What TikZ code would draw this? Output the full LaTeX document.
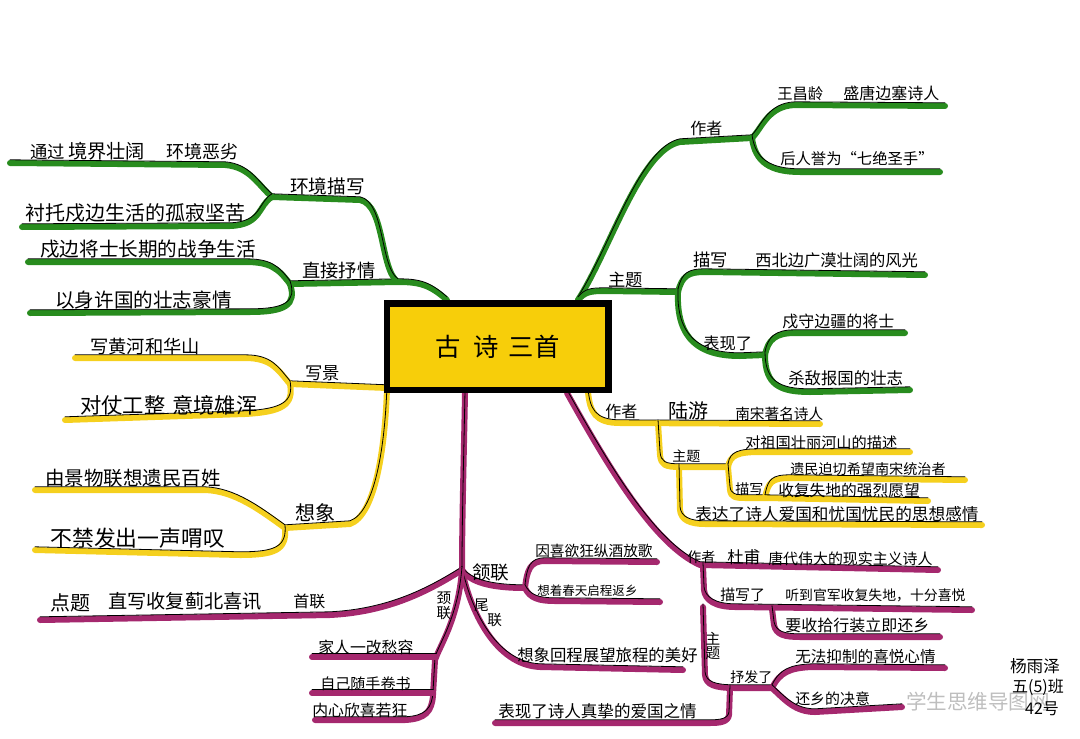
\documentclass[tikz,border=0pt]{standalone}
\usepackage{fontspec}
\setmainfont{Noto Sans CJK SC}
\definecolor{gcol}{RGB}{40,140,30}
\definecolor{ycol}{RGB}{245,208,30}
\definecolor{pcol}{RGB}{165,40,110}
\definecolor{ycen}{RGB}{247,206,10}
\definecolor{wmc}{RGB}{190,190,190}
\tikzset{
  br/.style={draw=#1, line width=4.5pt, line cap=round, line join=round,
    postaction={draw=black, line width=0.6pt, transform canvas={yshift=2.4pt}}},
  gb/.style={br=gcol}, yb/.style={br=ycol}, pb/.style={br=pcol},
  lbl/.style={inner sep=0pt, anchor=south west},
  fs/.style={font=\fontsize{#1}{#1}\selectfont},
}
\begin{document}
\begin{tikzpicture}[x=0.75pt,y=-0.75pt]
\useasboundingbox (0,0) rectangle (1080,738);
% ---------- coordinates
\coordinate (gA) at (578,300);
\coordinate (gF1) at (752,138);
\coordinate (gF2) at (678,292);
\coordinate (gF3) at (765,355);
\coordinate (gB) at (447,300);
\coordinate (gF4) at (398,282);
\coordinate (gF5) at (272,197);
\coordinate (gF6) at (290,284);
\coordinate (yA) at (387,388);
\coordinate (yF1) at (290,384);
\coordinate (yF2) at (285,528);
\coordinate (yB) at (588,392);
\coordinate (yF3) at (658,423);
\coordinate (yF4) at (728,467);
\coordinate (yF5) at (765,498);
\coordinate (yF6) at (679,467);
\coordinate (pA) at (465,393);
\coordinate (pH) at (462,570);
\coordinate (pB) at (567,393);
\coordinate (pF1) at (703,566);
\coordinate (pF2) at (772,609);
\coordinate (pF1b) at (703,607);
\coordinate (pF3) at (772,688);
\coordinate (pF3b) at (730,688);
\coordinate (pF4) at (525,588);
% ---------- green
\draw[gb] (gA) .. controls (610,250) and (640,150) .. (680,142) -- (gF1);
\draw[gb] (gF1) .. controls (762,128) and (768,106) .. (795,105) -- (945,106);
\draw[gb] (gF1) .. controls (755,162) and (770,172) .. (800,172) -- (940,172);
\draw[gb] (gA) .. controls (585,292) and (590,291) .. (605,291) -- (gF2);
\draw[gb] (gF2) .. controls (682,276) and (688,272) .. (705,272) -- (925,275);
\draw[gb] (gF2) .. controls (676,340) and (700,356) .. (740,356) -- (gF3);
\draw[gb] (gF3) .. controls (768,340) and (775,333) .. (795,333) -- (905,333);
\draw[gb] (gF3) .. controls (765,385) and (780,392) .. (810,392) -- (910,390);
\draw[gb] (gB) .. controls (430,285) and (420,282) .. (gF4) -- (gF6);
\draw[gb] (gF4) .. controls (380,270) and (385,205) .. (360,200) -- (gF5);
\draw[gb] (gF5) .. controls (258,185) and (250,167) .. (225,165) -- (10,163);
\draw[gb] (gF5) .. controls (258,205) and (262,225) .. (230,226) -- (22,227);
\draw[gb] (gF6) .. controls (278,268) and (270,262) .. (245,262) -- (28,262);
\draw[gb] (gF6) .. controls (297,305) and (285,312) .. (250,312) -- (30,313);
% ---------- yellow
\draw[yb] (yA) -- (yF1);
\draw[yb] (yF1) .. controls (278,370) and (272,358) .. (245,358) -- (75,358);
\draw[yb] (yF1) .. controls (294,405) and (282,412) .. (245,414) -- (65,420);
\draw[yb] (yA) .. controls (385,450) and (375,515) .. (350,524) -- (yF2);
\draw[yb] (yF2) .. controls (260,510) and (235,491) .. (205,490) -- (35,490);
\draw[yb] (yF2) .. controls (287,550) and (275,555) .. (240,555) -- (35,550);
\draw[yb] (yB) .. controls (590,412) and (595,423) .. (620,423) -- (820,424);
\draw[yb] (yF3) -- (660,455) .. controls (661,465) and (665,467) .. (680,467) -- (yF4);
\draw[yb] (yF4) .. controls (730,455) and (738,452) .. (760,452) -- (910,452);
\draw[yb] (yF4) -- (730,490) .. controls (731,497) and (735,498) .. (745,498) -- (yF5);
\draw[yb] (yF5) .. controls (768,482) and (772,478) .. (790,478) -- (965,480);
\draw[yb] (yF5) -- (928,501);
\draw[yb] (yF6) -- (680,510) .. controls (681,520) and (690,524) .. (705,524) -- (982,525);
% ---------- purple
\draw[pb] (pA) .. controls (464,450) and (462,520) .. (pH);
\draw[pb] (pB) .. controls (610,470) and (655,545) .. (700,565) -- (938,570);
\draw[pb] (pF1) -- (704,590) .. controls (705,600) and (715,607) .. (735,607) -- (972,610);
\draw[pb] (pF2) -- (774,625) .. controls (776,635) and (785,637) .. (800,637) -- (940,637);
\draw[pb] (pF1b) -- (705,675) .. controls (706,685) and (715,688) .. (735,688) -- (pF3);
\draw[pb] (pF3) .. controls (780,672) and (790,668) .. (812,667) -- (945,668);
\draw[pb] (pF3) .. controls (785,700) and (795,712) .. (815,712) -- (902,707);
\draw[pb] (pF3b) -- (729,715) .. controls (728,722) and (720,723) .. (710,723) -- (495,723);
\draw[pb] (pH) .. controls (430,590) and (390,612) .. (330,615) -- (40,620);
\draw[pb] (pH) .. controls (470,582) and (490,588) .. (pF4);
\draw[pb] (pF4) .. controls (527,570) and (530,561) .. (545,561) -- (657,562);
\draw[pb] (pF4) .. controls (530,598) and (538,601) .. (555,601) -- (660,602);
\draw[pb] (pH) .. controls (470,610) and (495,665) .. (540,667) -- (683,670);
\draw[pb] (pH) .. controls (458,620) and (440,645) .. (435,660) -- (433,695) .. controls (432,712) and (425,719) .. (405,720) -- (315,720);
\draw[pb] (436,657) -- (312,657);
\draw[pb] (433,693) -- (312,693);
% ---------- centre
\node[draw=black, line width=5pt, fill=ycen, minimum width=166pt, minimum height=65pt,
      inner sep=0pt, fs=19] (c) at (497.5,346.5) {古\hspace{0.5em}诗\hspace{0.4em}三首};
% ---------- green texts
\node[lbl,fs=12] (ga1) at (690,136) {作者};
\node[lbl,fs=11.5] (ga2) at (777,101) {王昌龄};
\node[lbl,fs=12] (ga3) at (843,101) {盛唐边塞诗人};
\node[lbl,fs=11.5] (ga4) at (780,166) {后人誉为“七绝圣手”};
\node[lbl,fs=13] (gt1) at (608,288) {主题};
\node[lbl,fs=13] (gt2) at (693,268) {描写};
\node[lbl,fs=12.2] (gt3) at (755,268) {西北边广漠壮阔的风光};
\node[lbl,fs=12.2] (gt4) at (703,351) {表现了};
\node[lbl,fs=12] (gt5) at (782,329) {戍守边疆的将士};
\node[lbl,fs=12.3] (gt6) at (788,386) {杀敌报国的壮志};
\node[lbl,fs=14] (ge1) at (290,195) {环境描写};
\node[lbl,fs=13] (ge2) at (30,160) {通过};
\node[lbl,fs=14.4] (ge3) at (68,160) {境界壮阔};
\node[lbl,fs=13.5] (ge4) at (166,160) {环境恶劣};
\node[lbl,fs=15] (ge5) at (25,223) {衬托戍边生活的孤寂坚苦};
\node[lbl,fs=13.7] (gz1) at (302,279) {直接抒情};
\node[lbl,fs=14.7] (gz2) at (40,259) {戍边将士长期的战争生活};
\node[lbl,fs=14.7] (gz3) at (55,309) {以身许国的壮志豪情};
% ---------- yellow texts
\node[lbl,fs=13] (yx1) at (305,381) {写景};
\node[lbl,fs=13.7] (yx2) at (90,355) {写黄河和华山};
\node[lbl,fs=16] (yx3) at (80,416) {对仗工整};
\node[lbl,fs=16] (yx4) at (172,416) {意境雄浑};
\node[lbl,fs=15] (yy1) at (295,522) {想象};
\node[lbl,fs=14.6] (yy2) at (45,487) {由景物联想遗民百姓};
\node[lbl,fs=16.4] (yy3) at (50,549) {不禁发出一声喟叹};
\node[lbl,fs=12] (yl1) at (605,419) {作者};
\node[lbl,fs=15] (yl2) at (668,420) {陆游};
\node[lbl,fs=11] (yl3) at (735,421) {南宋著名诗人};
\node[lbl,fs=10.5] (yl4) at (672,463) {主题};
\node[lbl,fs=11.4] (yl5) at (745,450) {对祖国壮丽河山的描述};
\node[lbl,fs=10.6] (yl6) at (790,476) {遗民迫切希望南宋统治者};
\node[lbl,fs=10.5] (yl7) at (735,496) {描写};
\node[lbl,fs=11.8] (yl8) at (778,498) {收复失地的强烈愿望};
\node[lbl,fs=12.5] (yl9) at (695,522) {表达了诗人爱国和忧国忧民的思想感情};
% ---------- purple texts
\node[lbl,fs=10.5] (pd1) at (687,564) {作者};
\node[lbl,fs=12.4] (pd2) at (727,565) {杜甫};
\node[lbl,fs=11.2] (pd3) at (768,566) {唐代伟大的现实主义诗人};
\node[lbl,fs=11.2] (pd4) at (720,602) {描写了};
\node[lbl,fs=10.4] (pd5) at (785,602) {听到官军收复失地，十分喜悦};
\node[lbl,fs=12] (pd6) at (785,633) {要收拾行装立即还乡};
\node[inner sep=0pt,fs=11,align=center] (pd7) at (713,646) {主\\题};
\node[lbl,fs=10.5] (pd8) at (730,684) {抒发了};
\node[lbl,fs=11.7] (pd9) at (795,664) {无法抑制的喜悦心情};
\node[lbl,fs=11.2] (pd10) at (795,706) {还乡的决意};
\node[lbl,fs=12.4] (pd11) at (498,719) {表现了诗人真挚的爱国之情};
\node[lbl,fs=14] (ph1) at (472,581) {颔联};
\node[lbl,fs=11] (ph2) at (535,558) {因喜欲狂纵酒放歌};
\node[lbl,fs=9.4] (ph3) at (537,597) {想着春天启程返乡};
\node[lbl,fs=15] (ps1) at (50,612) {点题};
\node[lbl,fs=14.4] (ps2) at (108,611) {直写收复蓟北喜讯};
\node[lbl,fs=12] (ps3) at (293,609) {首联};
\node[inner sep=0pt,fs=11,align=center] (pj1) at (444,606) {颈\\联};
\node[inner sep=0pt,fs=11,align=left] (pw1) at (488,613) {尾\\\hspace*{0.9em}联};
\node[lbl,fs=11.9] (pj2) at (318,655) {家人一改愁容};
\node[lbl,fs=11.3] (pj3) at (320,691) {自己随手卷书};
\node[lbl,fs=11.9] (pj4) at (312,718) {内心欣喜若狂};
\node[lbl,fs=12.3] (pw2) at (517,663) {想象回程展望旅程的美好};
% ---------- author & watermark
\node[inner sep=0pt,fs=15.4,text=wmc] (wm) at (978,702) {学生思维导图网};
\node[inner sep=0pt,fs=12.5] (au1) at (1035,666) {杨雨泽};
\node[inner sep=0pt,fs=12] (au2) at (1038,687) {五(5)班};
\node[inner sep=0pt,fs=12] (au3) at (1042,709) {42号};
\end{tikzpicture}
\end{document}
